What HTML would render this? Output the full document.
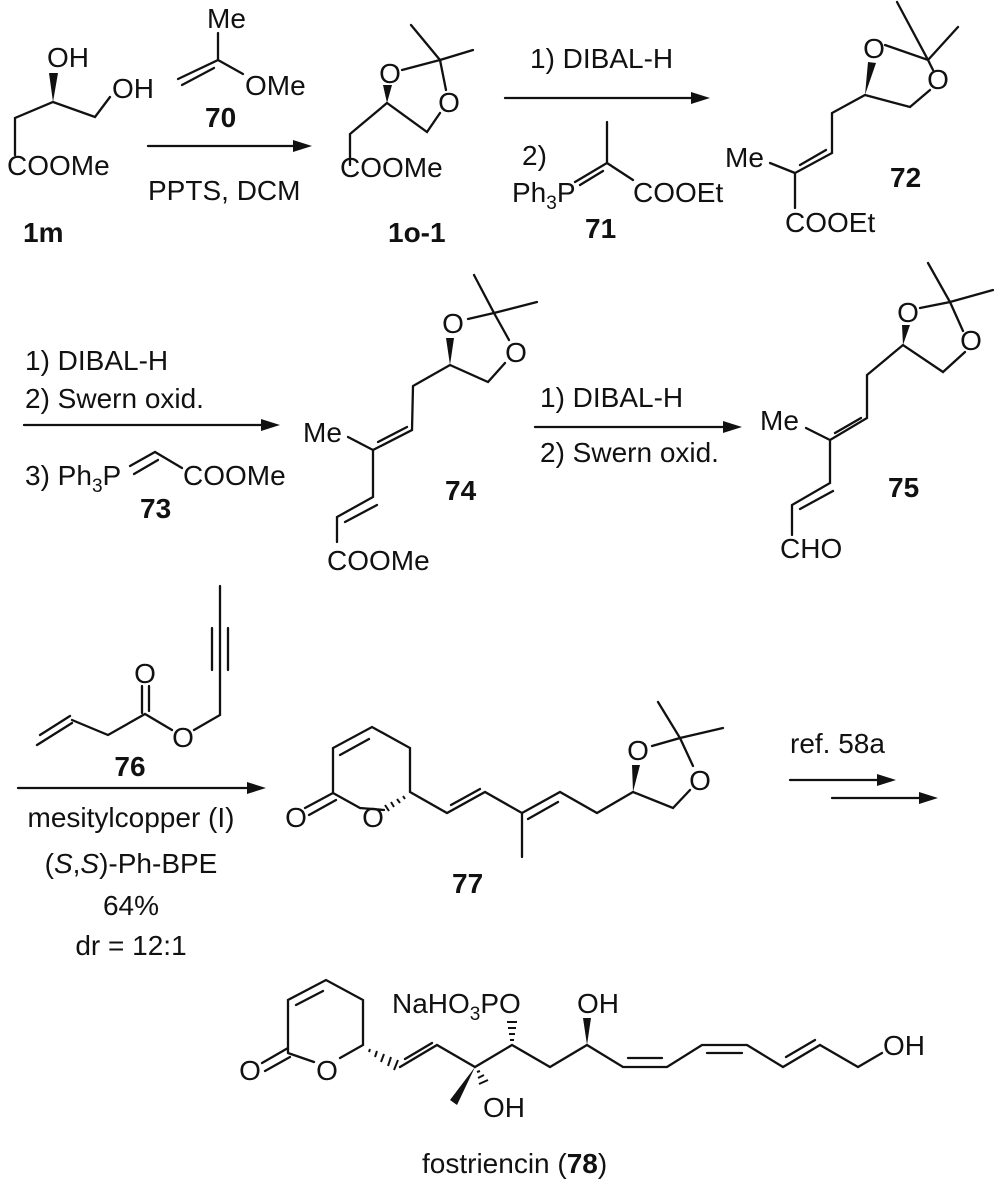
<!DOCTYPE html>
<html><head><meta charset="utf-8"><style>
html,body{margin:0;padding:0;background:#fff}
svg{display:block}
text{font-family:"Liberation Sans",Arial,sans-serif;font-size:28px;fill:#111}
.b{font-weight:bold}
.s{font-size:19px}
</style></head><body>
<svg width="1000" height="1186" viewBox="0 0 1000 1186" xmlns="http://www.w3.org/2000/svg">
<g stroke="#111" stroke-width="2.3" fill="none" stroke-linecap="round">
<!-- 1m -->
<path d="M110,97 L95,117 L53,102 L15,118 L15,155"/>
<!-- 70 -->
<path d="M218,33 L218,60 L178,79 M214,68 L182,85 M218,60 L243,74"/>
<!-- arrow1 -->
<path d="M148,146 L296,146"/>
<!-- 1o-1 -->
<path d="M402,70 L440,60 L411,25 M440,60 L473,50 M440,60 L446,90 M440,113 L427,132 L387,103 L350,134 L350,165"/>
<!-- arrow2 -->
<path d="M505,98 L694,98"/>
<!-- 71 -->
<path d="M607,122 L607,163 L575,182 M603,171 L580,185 M607,163 L633,180"/>
<!-- 72 -->
<path d="M885,45 L928,60 L897,2 M928,60 L958,27 M928,60 L933,70 M930,90 L910,107 L865,95 L832,113 L832,153 L795,173 L795,208 M800,165 L826,150 M795,173 L770,163"/>
<!-- arrow3 -->
<path d="M24,425 L264,425"/>
<!-- 73 -->
<path d="M130,466 L155,452 L182,468 M134,474 L158,460"/>
<!-- 74 -->
<path d="M468,319 L494,313 L474,275 M494,313 L537,302 M494,313 L509,340 M505,363 L488,382 L450,365 L413,386 L412,430 L373,450 L373,497 L337,517 L337,542 M378,442 L407,427 M377,505 L345,522 M373,450 L348,437"/>
<!-- arrow4 -->
<path d="M535,427 L726,427"/>
<!-- 75 -->
<path d="M920,308 L950,302 L928,263 M950,302 L993,290 M950,302 L963,331 M965,352 L943,372 L903,345 L867,375 L867,418 L830,440 L830,483 L792,505 L792,535 M835,433 L861,418 M833,491 L800,509 M830,440 L806,428"/>
<!-- 76 -->
<path d="M37,745 L72,723 M40,735 L70,716 M72,720 L108,735 L145,714 L172,730 M194,730 L220,715 L220,586 M212,628 L212,670 M228,628 L228,670 M142,686 L142,713 M149,686 L149,711"/>
<!-- arrow5 -->
<path d="M18,788 L250,788"/>
<!-- 77 -->
<path d="M305,808 L333,793 M309,815 L336,800 M333,793 L333,748 L372,727 L410,748 L410,792 M340,755 L369,739 M384,810 L360,808 M360,808 L333,793 M410,792 L447,813 L485,792 L522,813 L522,857 M522,813 L560,792 L597,813 L633,792 M451,805 L480,789 M528,819 L558,802 M652,746 L680,738 L658,702 M680,738 L723,728 M680,738 L693,766 M690,790 L673,808 L633,792"/>
<!-- arrows 6 -->
<path d="M790,780 L880,780 M832,798 L922,798"/>
<!-- 78 -->
<path d="M262,1063 L288,1048 M265,1071 L290,1057 M288,1053 L288,1000 L326,980 L363,1000 L363,1045 L340,1058 M296,1005 L323,991 M314,1062 L288,1053 M400,1067 L437,1045 L475,1067 L512,1045 L550,1067 L587,1045 L623,1067 L667,1067 L702,1045 L747,1045 L783,1067 L820,1045 L858,1067 L882,1053 M405,1059 L432,1043 M628,1058 L662,1058 M707,1053 L742,1053 M786,1057 L815,1040"/>
</g>
<g fill="#111" stroke="none">
<!-- arrowheads -->
<polygon points="312,146 293,140 293,152"/>
<polygon points="710,98 691,92 691,104"/>
<polygon points="280,425 261,419 261,431"/>
<polygon points="742,427 723,421 723,433"/>
<polygon points="266,788 247,782 247,794"/>
<polygon points="896,780 877,774 877,786"/>
<polygon points="938,798 919,792 919,804"/>
<!-- wedges -->
<polygon points="53,102 49,73 58,73"/>
<polygon points="387,103 383,85 392,85"/>
<polygon points="865,95 868,62 876,63"/>
<polygon points="450,365 446,338 454,338"/>
<polygon points="903,345 902,325 910,325"/>
<polygon points="633,792 632,765 640,765"/>
<polygon points="475,1067 450,1100 457,1105"/>
<polygon points="587,1045 583,1018 591,1018"/>
</g>
<!-- hashes -->
<g stroke="#111" stroke-width="2">
<path d="M403,796 L405,799 M397,799 L400,803 M391,802 L394,807 M385,805 L389,811"/>
<path d="M370,1049 L369,1052 M377,1051 L375,1057 M384,1054 L381,1062 M391,1057 L388,1066 M398,1060 L394,1070"/>
<path d="M477,1072 L480,1071 M478,1078 L484,1075 M479,1084 L488,1080"/>
<path d="M510,1040 L514,1040 M509,1034 L515,1034 M508,1028 L516,1028 M507,1022 L517,1022"/>
</g>
<!-- text -->
<text x="47" y="67">OH</text>
<text x="112" y="98">OH</text>
<text x="7" y="175">COOMe</text>
<text x="23" y="242" class="b">1m</text>
<text x="207" y="28">Me</text>
<text x="245" y="95">OMe</text>
<text x="205" y="127" class="b">70</text>
<text x="148" y="200">PPTS, DCM</text>
<text x="390" y="83" text-anchor="middle">O</text>
<text x="449" y="112" text-anchor="middle">O</text>
<text x="340" y="177">COOMe</text>
<text x="388" y="242" class="b">1o-1</text>

<text x="530" y="68">1) DIBAL-H</text>
<text x="522" y="165">2)</text>
<text x="512" y="202">Ph<tspan class="s" dy="7">3</tspan><tspan dy="-7">P</tspan></text>
<text x="633" y="202">COOEt</text>
<text x="585" y="238" class="b">71</text>
<text x="874" y="58" text-anchor="middle">O</text>
<text x="938" y="89" text-anchor="middle">O</text>
<text x="725" y="167">Me</text>
<text x="785" y="232">COOEt</text>
<text x="890" y="187" class="b">72</text>

<text x="25" y="370">1) DIBAL-H</text>
<text x="25" y="408">2) Swern oxid.</text>
<text x="25" y="485">3) Ph<tspan class="s" dy="7">3</tspan><tspan dy="-7">P</tspan></text>
<text x="183" y="485">COOMe</text>
<text x="140" y="518" class="b">73</text>
<text x="453" y="333" text-anchor="middle">O</text>
<text x="516" y="362" text-anchor="middle">O</text>
<text x="303" y="442">Me</text>
<text x="327" y="570">COOMe</text>
<text x="445" y="500" class="b">74</text>

<text x="540" y="407">1) DIBAL-H</text>
<text x="540" y="462">2) Swern oxid.</text>
<text x="908" y="322" text-anchor="middle">O</text>
<text x="971" y="350" text-anchor="middle">O</text>
<text x="760" y="430">Me</text>
<text x="780" y="558">CHO</text>
<text x="888" y="497" class="b">75</text>

<text x="145" y="683" text-anchor="middle">O</text>
<text x="183" y="747" text-anchor="middle">O</text>
<text x="130" y="776" class="b" text-anchor="middle">76</text>
<text x="131" y="827" text-anchor="middle">mesitylcopper (I)</text>
<text x="131" y="873" text-anchor="middle">(<tspan font-style="italic">S</tspan>,<tspan font-style="italic">S</tspan>)-Ph-BPE</text>
<text x="131" y="915" text-anchor="middle">64%</text>
<text x="131" y="955" text-anchor="middle">dr = 12:1</text>
<text x="296" y="827" text-anchor="middle">O</text>
<text x="373" y="827" text-anchor="middle">O</text>
<text x="638" y="760" text-anchor="middle">O</text>
<text x="700" y="790" text-anchor="middle">O</text>
<text x="452" y="893" class="b">77</text>
<text x="790" y="753">ref. 58a</text>

<text x="250" y="1080" text-anchor="middle">O</text>
<text x="327" y="1080" text-anchor="middle">O</text>
<text x="392" y="1013">NaHO<tspan class="s" dy="7">3</tspan><tspan dy="-7">PO</tspan></text>
<text x="577" y="1013">OH</text>
<text x="483" y="1117">OH</text>
<text x="883" y="1055">OH</text>
<text x="422" y="1173">fostriencin (<tspan class="b">78</tspan>)</text>
</svg>
</body></html>
